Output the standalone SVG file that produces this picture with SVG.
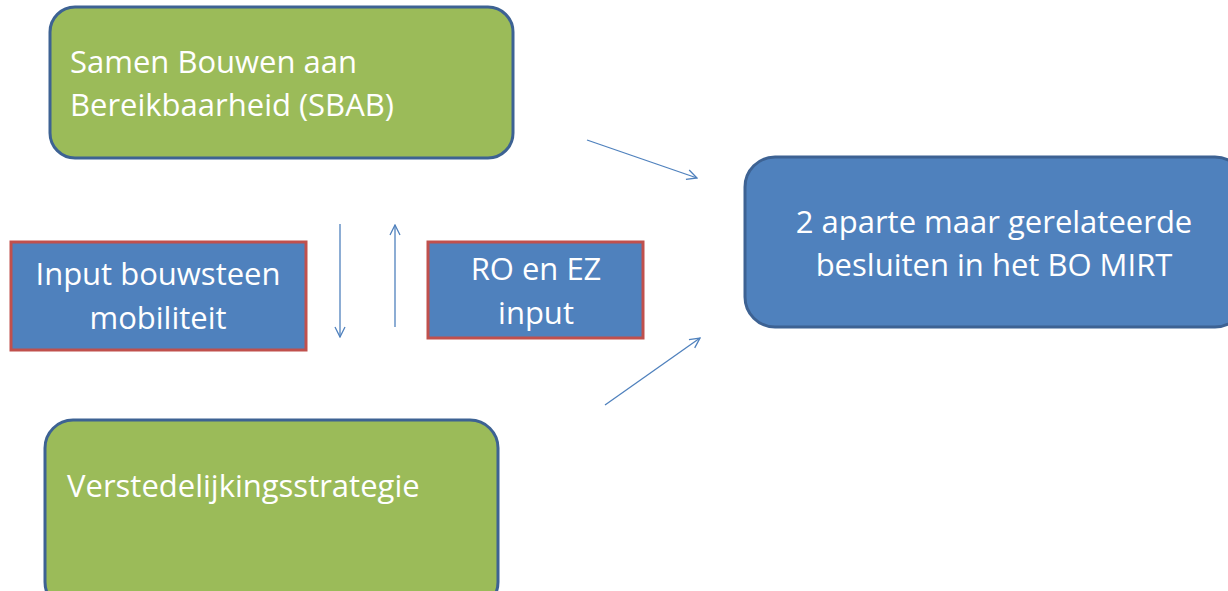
<svg xmlns="http://www.w3.org/2000/svg" width="1228" height="591" viewBox="0 0 1228 591">
<defs>
<style>
.green{fill:#9bbb59;stroke:#3d6293;stroke-width:3}
.blue{fill:#4f81bd;stroke:#3d6293;stroke-width:3}
.red{fill:#4f81bd;stroke:#c0504d;stroke-width:3}
text{font-family:"Open Sans","Liberation Sans",sans-serif;font-size:31px;fill:#ffffff}
.c{text-anchor:middle}
.conn{stroke:#4f81bd;stroke-width:1.3;fill:none}
</style>
<marker id="ah" viewBox="0 0 12 12" refX="11" refY="6" markerWidth="12" markerHeight="12" markerUnits="userSpaceOnUse" orient="auto">
<path d="M1,1 L11,6 L1,11" fill="none" stroke="#4f81bd" stroke-width="1.3"/>
</marker>
</defs>
<rect width="1228" height="591" fill="#ffffff"/>
<g id="sbab">
<rect class="green" x="50" y="7" width="463" height="151" rx="25"/>
<text x="70" y="73">Samen Bouwen aan</text>
<text x="70" y="116">Bereikbaarheid (SBAB)</text>
</g>
<g id="input-mobiliteit">
<rect class="red" x="11" y="242" width="295" height="108"/>
<text class="c" x="158" y="285">Input bouwsteen</text>
<text class="c" x="158" y="329">mobiliteit</text>
</g>
<g id="ro-ez">
<rect class="red" x="428" y="242" width="215" height="96"/>
<text class="c" x="536" y="280">RO en EZ</text>
<text class="c" x="536" y="324">input</text>
</g>
<g id="besluiten">
<rect class="blue" x="745" y="157" width="500" height="170" rx="30"/>
<text class="c" x="994" y="233">2 aparte maar gerelateerde</text>
<text class="c" x="994" y="276">besluiten in het BO MIRT</text>
</g>
<g id="verstedelijking">
<rect class="green" x="45" y="420" width="453" height="190" rx="28"/>
<text x="67" y="497">Verstedelijkingsstrategie</text>
</g>
<g id="connectors">
<line class="conn" x1="340" y1="224" x2="340" y2="337" marker-end="url(#ah)"/>
<line class="conn" x1="395" y1="327" x2="395" y2="225" marker-end="url(#ah)"/>
<line class="conn" x1="587" y1="140" x2="697" y2="178" marker-end="url(#ah)"/>
<line class="conn" x1="605" y1="405" x2="700" y2="338" marker-end="url(#ah)"/>
</g>
</svg>
